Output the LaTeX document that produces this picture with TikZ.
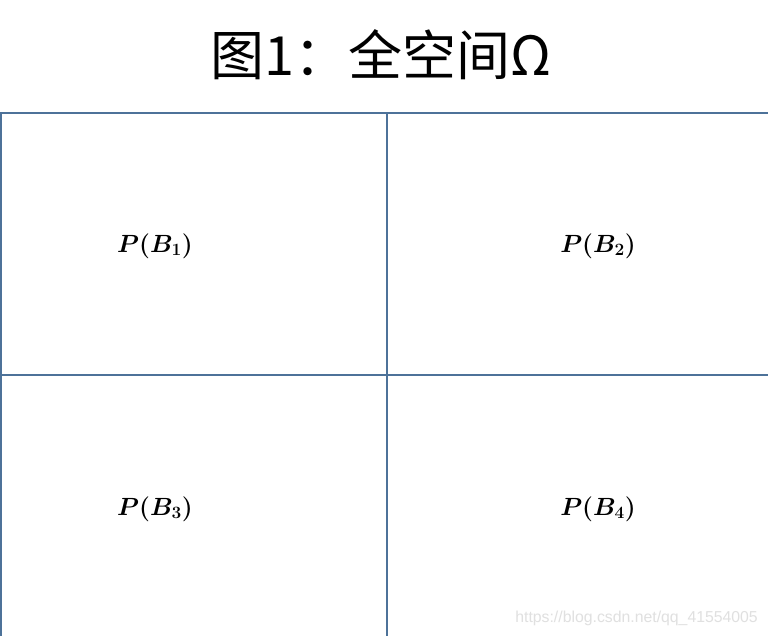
\documentclass[tikz,border=0pt]{standalone}
\usepackage{fontspec}
\newfontfamily\cjk{Noto Sans CJK SC}
\newfontfamily\wm{Liberation Sans}
\begin{document}
\begin{tikzpicture}[x=1pt,y=-1pt,
  gridline/.style={draw=gridblue,line width=2pt},
  lbl/.style={font=\fontsize{27}{32}\selectfont\boldmath,inner sep=0pt}]
\definecolor{gridblue}{HTML}{4D7299}
\useasboundingbox (0,0) rectangle (768,636);
\fill[white] (0,0) rectangle (768,636);
\node[inner sep=0pt,font=\fontsize{54}{60}\selectfont\cjk] (title) at (381,55) {图1：全空间Ω};
\coordinate (tl) at (1,113);
\coordinate (tr) at (770,113);
\coordinate (bl) at (1,640);
\coordinate (vt) at (387,113);
\coordinate (vb) at (387,640);
\coordinate (hl) at (1,375);
\coordinate (hr) at (770,375);
\draw[gridline] (bl) -- (tl) -- (tr);
\draw[gridline] (vt) -- (vb);
\draw[gridline] (hl) -- (hr);
\node[lbl] (b1) at (155,246) {$P(B_1)$};
\node[lbl] (b2) at (598,246) {$P(B_2)$};
\node[lbl] (b3) at (155,509) {$P(B_3)$};
\node[lbl] (b4) at (598,509) {$P(B_4)$};
\node[inner sep=0pt,anchor=east,text=black!12,font=\fontsize{15.8}{19}\selectfont\wm] (wm) at (758,618) {https://blog.csdn.net/qq\_41554005};
\end{tikzpicture}
\end{document}
